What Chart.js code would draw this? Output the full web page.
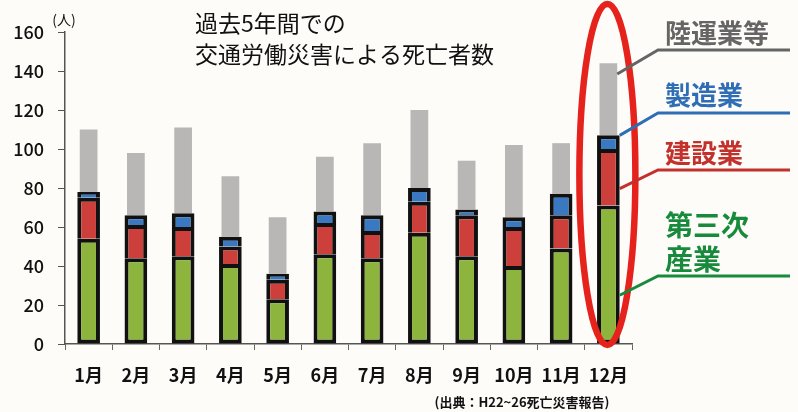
<!DOCTYPE html>
<html>
<head>
<meta charset="utf-8">
<script src="https://cdn.jsdelivr.net/npm/chart.js@4"></script>
<style>
  html, body { margin: 0; padding: 0; background: #fdfcf9; }
  #wrap { width: 798px; height: 412px; position: relative; }
</style>
</head>
<body>
<div id="wrap"><canvas id="myChart" width="798" height="412"></canvas></div>
<script>
// values (people, 5-year total per month)
const months = ['1月','2月','3月','4月','5月','6月','7月','8月','9月','10月','11月','12月'];
const tertiary = [54, 44, 45, 41, 23, 46, 44, 57, 45, 40, 49, 71];      // 第三次産業
const construction = [21, 17, 15, 9, 10, 16, 14, 16, 21, 20, 17, 29];   // 建設業
const manufacturing = [3, 5, 7, 5, 3, 6, 8, 7, 3, 5, 11, 7];            // 製造業
const landTransport = [32, 32, 44, 31, 29, 28, 37, 40, 25, 37, 26, 37]; // 陸運業等
const yTicks = [0, 20, 40, 60, 80, 100, 120, 140, 160];

const FONT = '"Noto Sans CJK JP", "Noto Sans", sans-serif';

// title, labels on the right, red ring round December
const decor = {
  id: 'decor',
  afterDatasetsDraw(chart) {
    const ctx = chart.ctx;
    const el = chart.getDatasetMeta(0).data[11];
    const area = chart.chartArea;
    ctx.save();
    ctx.strokeStyle = '#e5221b';
    ctx.lineWidth = 6.5;
    ctx.beginPath();
    const top = 4, bottom = area.bottom + 1;
    ctx.ellipse(el.x - 1, (top + bottom) / 2, 28, (bottom - top) / 2, 0, 0, Math.PI * 2);
    ctx.stroke();
    ctx.restore();
  },
  afterDraw(chart) {
    const ctx = chart.ctx;
    ctx.save();
    ctx.fillStyle = '#111';
    ctx.font = '23px ' + FONT;
    ctx.textBaseline = 'middle';
    ctx.textAlign = 'left';
    ctx.fillText('過去5年間での', 195, 23);
    ctx.fillText('交通労働災害による死亡者数', 195, 54);

    ctx.font = '14px ' + FONT;
    ctx.textAlign = 'center';
    ctx.fillText('(人)', 64, 20);

    ctx.font = 'bold 13px ' + FONT;
    ctx.fillText('(出典：H22~26死亡災害報告)', 522, 402);

    // leader lines from the December bar
    const legs = [
      {ds: 3, frac: 0.85, y: 50,  color: '#656565', text: ['陸運業等'], ty: [33], size: 26},
      {ds: 2, frac: 1.0,  y: 113, color: '#2f6db5', text: ['製造業'], ty: [95], size: 26},
      {ds: 1, frac: 0.3,  y: 170, color: '#c2312c', text: ['建設業'], ty: [153], size: 26},
      {ds: 0, frac: 0.35, y: 276, color: '#178a3c', text: ['第三次', '産業'], ty: [225, 259], size: 28}
    ];
    legs.forEach(function(l) {
      const e = chart.getDatasetMeta(l.ds).data[11];
      const sx = e.x + e.width / 2;
      const sy = e.base + (e.y - e.base) * l.frac;
      ctx.strokeStyle = l.color;
      ctx.lineWidth = 3;
      ctx.beginPath();
      ctx.moveTo(sx, sy);
      ctx.lineTo(658, l.y);
      ctx.lineTo(790, l.y);
      ctx.stroke();
      ctx.fillStyle = l.color;
      ctx.font = 'bold ' + l.size + 'px ' + FONT;
      ctx.textAlign = 'left';
      l.text.forEach(function(t, i) { ctx.fillText(t, 665, l.ty[i]); });
    });
    ctx.restore();
  }
};

const outlined = {borderColor: '#111', borderWidth: 4, barPercentage: 0.48, categoryPercentage: 1, stack: 's'};

let ctx = document.getElementById('myChart').getContext('2d');
new Chart(ctx, {
  type: 'bar',
  data: {
    labels: months,
    datasets: [
      Object.assign({label: '第三次産業', data: tertiary, backgroundColor: '#8db53d', borderSkipped: false}, outlined),
      Object.assign({label: '建設業', data: construction, backgroundColor: '#cc3f3a'}, outlined),
      Object.assign({label: '製造業', data: manufacturing, backgroundColor: '#3a79c2'}, outlined),
      {label: '陸運業等', data: landTransport, backgroundColor: '#b9b7b5', borderWidth: 0,
       barPercentage: 0.375, categoryPercentage: 1, stack: 's'}
    ]
  },
  plugins: [decor],
  options: {
    responsive: false,
    animation: false,
    layout: {padding: {top: 32, right: 166, left: 0, bottom: 0}},
    plugins: {legend: {display: false}, tooltip: {enabled: false}},
    scales: {
      x: {
        stacked: true,
        afterFit: function(s) { s.height = 68; },
        grid: {drawOnChartArea: false, tickLength: 6, color: '#666', offset: true},
        border: {color: '#555', width: 1.5},
        ticks: {color: '#111', padding: 14, maxRotation: 0, minRotation: 0, autoSkip: false,
                font: {family: FONT, size: 18, weight: 'bold'}}
      },
      y: {
        stacked: true,
        min: 0, max: 160,
        afterFit: function(s) { s.width = 65; },
        afterBuildTicks: function(s) { s.ticks = yTicks.map(function(v) { return {value: v}; }); },
        grid: {drawOnChartArea: false, tickLength: 7, color: '#555'},
        border: {color: '#555', width: 1.5},
        ticks: {color: '#111', padding: 14, font: {family: FONT, size: 18, weight: '500'}}
      }
    }
  }
});
</script>
</body>
</html>
